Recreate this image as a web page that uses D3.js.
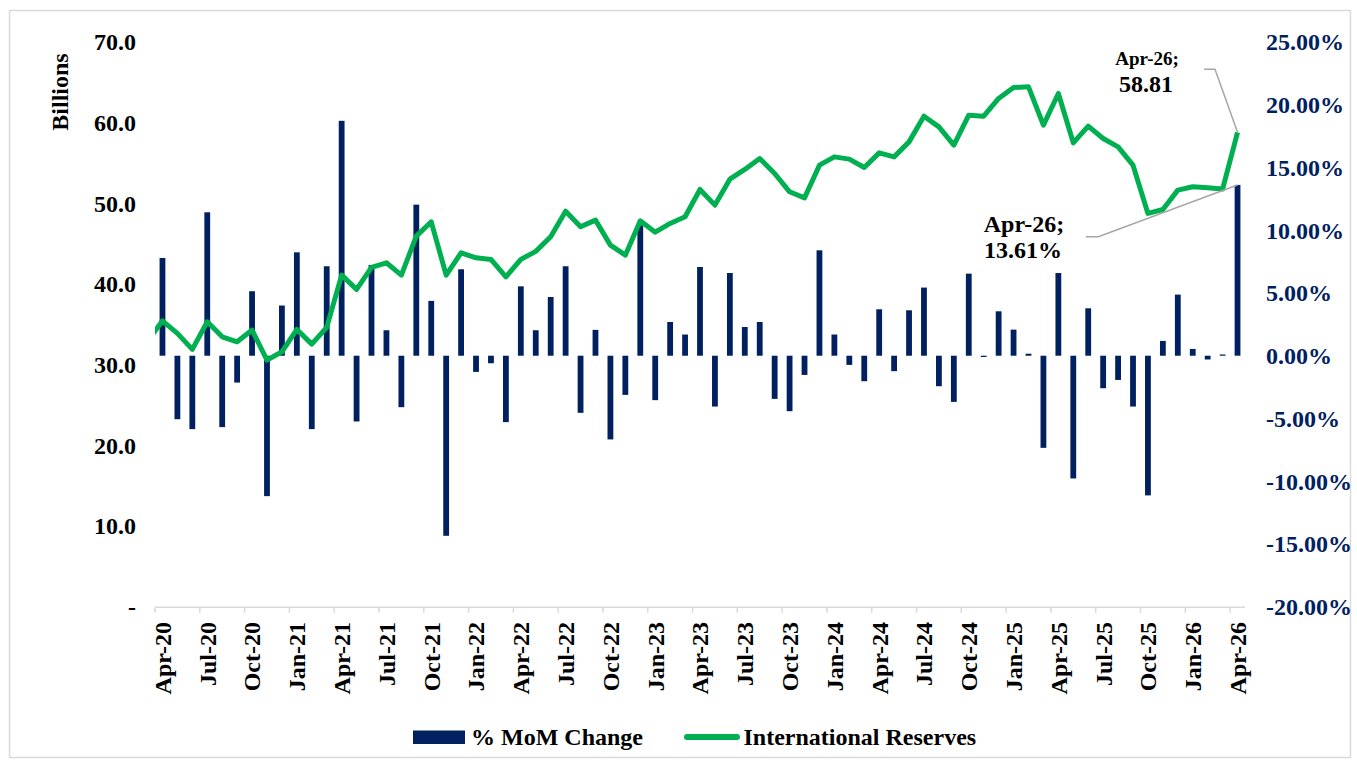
<!DOCTYPE html>
<html>
<head>
<meta charset="utf-8">
<script src="https://cdn.jsdelivr.net/npm/d3@7"></script>
<style>
  body { margin: 0; background: #fff; }
  text { font-family: "Liberation Serif", "Times New Roman", serif; font-weight: bold; }
</style>
</head>
<body>
<svg id="chart" width="1357" height="762"></svg>
<script>
// months Apr-20 .. Apr-26
var months = d3.timeMonth.range(new Date(2020, 3, 1), new Date(2026, 4, 1)).map(d3.timeFormat("%b-%y"));

// % MoM change (right axis)
var momChange = [
  7.79, -5.06, -5.85, 11.43, -5.69, -2.14, 5.14, -11.19, 4.0, 8.24, -5.85, 7.13,
  18.72, -5.24, 7.23, 2.03, -4.1, 12.04, 4.37, -14.35, 6.89, -1.29, -0.6, -5.29,
  5.53, 2.03, 4.68, 7.13, -4.55, 2.06, -6.67, -3.12, 10.39, -3.54, 2.69, 1.69,
  7.07, -4.05, 6.59, 2.29, 2.69, -3.44, -4.42, -1.53, 8.4, 1.69, -0.73, -2.03,
  3.7, -1.23, 3.62, 5.43, -2.43, -3.68, 6.54, -0.1, 3.54, 2.08, 0.16, -7.34,
  6.59, -9.78, 3.78, -2.59, -1.93, -4.05, -11.13, 1.18, 4.87, 0.54, -0.3, 0.1,
  13.61
];

// international reserves, billions (left axis)
var reserves = [
  35.44, 33.88, 31.9, 35.32, 33.46, 32.84, 34.29, 30.57, 31.6, 34.37, 32.55, 34.62,
  41.1, 39.33, 42.06, 42.63, 41.1, 45.94, 47.71, 41.1, 43.87, 43.25, 43.05, 40.89,
  43.05, 44.05, 45.85, 49.03, 47.09, 47.92, 44.82, 43.58, 47.83, 46.43, 47.51, 48.33,
  51.72, 49.78, 53.0, 54.2, 55.56, 53.7, 51.43, 50.68, 54.73, 55.76, 55.48, 54.45,
  56.26, 55.76, 57.62, 60.8, 59.48, 57.21, 60.93, 60.8, 63.0, 64.36, 64.44, 59.69,
  63.62, 57.5, 59.57, 58.04, 57.0, 54.73, 48.75, 49.24, 51.64, 52.05, 51.92, 51.77,
  58.81
];
// Mar-20 value, only its tail shows at the left edge of the plot
var reservesPrev = 32.9;

var leftTicks = [0, 10, 20, 30, 40, 50, 60, 70];
var rightTicks = [-20, -15, -10, -5, 0, 5, 10, 15, 20, 25];

var navy = "#002060";
var green = "#00b050";

var svg = d3.select("#chart");

// outer frame
svg.append("rect")
  .attr("x", 9.5).attr("y", 10.5)
  .attr("width", 1341).attr("height", 747)
  .attr("fill", "none")
  .attr("stroke", "#d9d9d9")
  .attr("stroke-width", 1.5);

var plotLeft = 155, plotRight = 1245, plotTop = 42, plotBottom = 606.7;

var x = d3.scaleLinear().domain([0, months.length]).range([plotLeft, plotRight]);
var yL = d3.scaleLinear().domain([0, 70]).range([plotBottom, plotTop]);
var yR = d3.scaleLinear().domain([-20, 25]).range([plotBottom, plotTop]);

// left axis labels
svg.selectAll(".ltick").data(leftTicks).enter().append("text")
  .attr("x", 136)
  .attr("y", function (d) { return yL(d); })
  .attr("dy", "0.35em")
  .attr("text-anchor", "end")
  .style("font-size", "24px")
  .attr("fill", "#000")
  .text(function (d) { return d === 0 ? "-" : d.toFixed(1); });

svg.append("text")
  .attr("transform", "translate(60,92) rotate(-90)")
  .attr("dy", "0.35em")
  .attr("text-anchor", "middle")
  .style("font-size", "24px")
  .text("Billions");

// right axis labels
svg.selectAll(".rtick").data(rightTicks).enter().append("text")
  .attr("x", 1266)
  .attr("y", function (d) { return yR(d); })
  .attr("dy", "0.35em")
  .style("font-size", "24px")
  .attr("fill", navy)
  .text(function (d) { return d.toFixed(2) + "%"; });

// bars
var barW = 5.8;
svg.selectAll(".bar").data(momChange).enter().append("rect")
  .attr("x", function (d, i) { return x(i + 0.5) - barW / 2; })
  .attr("y", function (d) { return Math.min(yR(d), yR(0)); })
  .attr("width", barW)
  .attr("height", function (d) { return Math.max(Math.abs(yR(d) - yR(0)), 0.8); })
  .attr("fill", navy);

// x axis
svg.append("line")
  .attr("x1", plotLeft).attr("x2", plotRight)
  .attr("y1", plotBottom + 0.5).attr("y2", plotBottom + 0.5)
  .attr("stroke", "#d9d9d9").attr("stroke-width", 1.5);

var tickIdx = d3.range(0, months.length, 3);
svg.selectAll(".xtick").data(tickIdx).enter().append("line")
  .attr("x1", function (i) { return x(i); })
  .attr("x2", function (i) { return x(i); })
  .attr("y1", plotBottom + 0.5).attr("y2", plotBottom + 6)
  .attr("stroke", "#d9d9d9").attr("stroke-width", 1.5);

svg.selectAll(".xlabel").data(tickIdx).enter().append("text")
  .attr("transform", function (i) { return "translate(" + x(i + 0.5) + ",622) rotate(-90)"; })
  .attr("dy", "0.35em")
  .attr("text-anchor", "end")
  .style("font-size", "24px")
  .text(function (i) { return months[i]; });

// reserves line
svg.append("clipPath").attr("id", "plotClip")
  .append("rect")
  .attr("x", plotLeft).attr("y", 0)
  .attr("width", plotRight - plotLeft).attr("height", 762);

var linePts = [reservesPrev].concat(reserves);
var line = d3.line()
  .x(function (d, i) { return x(i - 0.5); })
  .y(function (d) { return yL(d); });

svg.append("path")
  .datum(linePts)
  .attr("d", line)
  .attr("clip-path", "url(#plotClip)")
  .attr("fill", "none")
  .attr("stroke", green)
  .attr("stroke-width", 5)
  .attr("stroke-linejoin", "round");

// data labels for last point
var last = months.length - 1;
var lx = x(last + 0.5);

svg.append("polyline")
  .attr("points", [[1204, 69.3], [1215, 69.3], [lx, yL(reserves[last])]].join(" "))
  .attr("fill", "none").attr("stroke", "#a6a6a6").attr("stroke-width", 1.5);
svg.append("text")
  .attr("x", 1147).attr("y", 65)
  .attr("text-anchor", "middle")
  .style("font-size", "19px")
  .text(months[last] + ";");
svg.append("text")
  .attr("x", 1146).attr("y", 92)
  .attr("text-anchor", "middle")
  .style("font-size", "24px")
  .text(reserves[last].toFixed(2));

svg.append("polyline")
  .attr("points", [[1085.7, 236.7], [1098.3, 236.7], [lx, yR(momChange[last])]].join(" "))
  .attr("fill", "none").attr("stroke", "#a6a6a6").attr("stroke-width", 1.5);
svg.append("text")
  .attr("x", 1024).attr("y", 232)
  .attr("text-anchor", "middle")
  .style("font-size", "24px")
  .text(months[last] + ";");
svg.append("text")
  .attr("x", 1023).attr("y", 258)
  .attr("text-anchor", "middle")
  .style("font-size", "24px")
  .text(momChange[last].toFixed(2) + "%");

// legend
svg.append("rect")
  .attr("x", 413).attr("y", 730.5)
  .attr("width", 52).attr("height", 13.5)
  .attr("fill", navy);
svg.append("text")
  .attr("x", 471).attr("y", 745)
  .style("font-size", "24px")
  .text("% MoM Change");
svg.append("line")
  .attr("x1", 687).attr("x2", 737)
  .attr("y1", 737).attr("y2", 737)
  .attr("stroke", green).attr("stroke-width", 6)
  .attr("stroke-linecap", "round");
svg.append("text")
  .attr("x", 743.5).attr("y", 745)
  .style("font-size", "24px")
  .text("International Reserves");
</script>
</body>
</html>
